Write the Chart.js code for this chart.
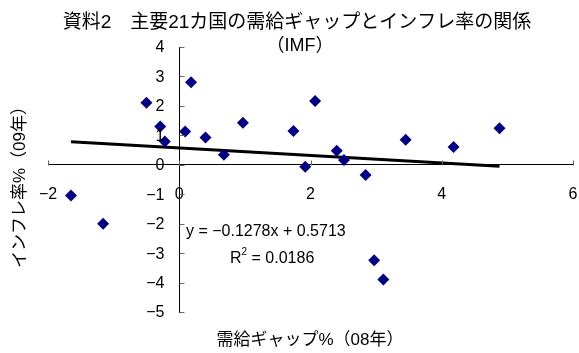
<!DOCTYPE html>
<html><head><meta charset="utf-8">
<script src="https://cdn.jsdelivr.net/npm/chart.js@4/dist/chart.umd.min.js"></script>
<style>html,body{margin:0;padding:0;background:#fff}#wrap{width:579px;height:353px;position:relative}</style>
</head><body><div id="wrap"><canvas id="c" width="579" height="353"></canvas></div>
<script>
// Data
const gapX  = [-1.65, -1.16, -0.50, -0.29, -0.22, 0.09, 0.18, 0.40, 0.68, 0.97, 1.74, 1.92, 2.07, 2.40, 2.51, 2.84, 2.97, 3.11, 3.45, 4.18, 4.88];
const inflY = [-1.04, -2.00, 2.11, 1.30, 0.79, 1.13, 2.80, 0.93, 0.34, 1.43, 1.15, -0.07, 2.17, 0.48, 0.16, -0.35, -3.24, -3.90, 0.85, 0.60, 1.24];
const trendX = [-1.65, 4.88];
const trendY = [0.78, -0.05];
const xTickValues = [-2, 0, 2, 4, 6];
const yTickValues = [-5, -4, -3, -2, -1, 0, 1, 2, 3, 4];
const titleLines = ['資料2　主要21カ国の需給ギャップとインフレ率の関係', '（IMF）'];
const xTitle = '需給ギャップ%（08年）';
const yTitle = 'インフレ率%（09年）';
const eqText = 'y = −0.1278x + 0.5713';
const r2Text = ['R', '2', ' = 0.0186'];

const FONT = '"Liberation Sans", "Noto Sans CJK JP", sans-serif';
const minus = v => String(v).replace('-', '\u2212');

const textPlugin = {
  id: 'texts',
  afterDraw(chart) {
    const ctx = chart.ctx;
    const sx = chart.scales.x, sy = chart.scales.y;
    ctx.save();
    // tick marks: x ticks upward, y ticks rightward
    ctx.strokeStyle = '#666';
    ctx.lineWidth = 1;
    const y0 = Math.round(sy.getPixelForValue(0)) + 0.5;
    const x0 = Math.round(sx.getPixelForValue(0)) + 0.5;
    ctx.beginPath();
    xTickValues.forEach(v => {
      const px = Math.round(sx.getPixelForValue(v)) + 0.5;
      ctx.moveTo(px, y0); ctx.lineTo(px, y0 - 5);
    });
    yTickValues.forEach(v => {
      const py = Math.round(sy.getPixelForValue(v)) + 0.5;
      ctx.moveTo(x0, py); ctx.lineTo(x0 + 5, py);
    });
    ctx.stroke();

    ctx.fillStyle = '#000';
    // y tick labels, left of the y axis
    ctx.textBaseline = 'middle';
    ctx.textAlign = 'right';
    ctx.font = '16px ' + FONT;
    yTickValues.forEach(v => {
      ctx.fillText(minus(v), x0 - 15, sy.getPixelForValue(v) + 1);
    });

    ctx.textAlign = 'center';
    ctx.font = '19px ' + FONT;
    ctx.fillText(titleLines[0], 297, 23);
    ctx.font = '18px ' + FONT;
    ctx.fillText(titleLines[1], 300, 46);
    ctx.font = '17px ' + FONT;
    ctx.fillText(xTitle, 310, 340);
    ctx.save();
    ctx.translate(20, 183);
    ctx.rotate(-Math.PI / 2);
    ctx.fillText(yTitle, 0, 0);
    ctx.restore();
    ctx.textAlign = 'left';
    ctx.font = '16px ' + FONT;
    ctx.fillText(eqText, 186, 232);
    let x = 230;
    ctx.fillText(r2Text[0], x, 259);
    x += ctx.measureText(r2Text[0]).width;
    ctx.font = '10px ' + FONT;
    ctx.fillText(r2Text[1], x, 252);
    x += ctx.measureText(r2Text[1]).width;
    ctx.font = '16px ' + FONT;
    ctx.fillText(r2Text[2], x, 259);
    ctx.restore();
  }
};

new Chart(document.getElementById('c'), {
  type: 'scatter',
  data: {
    datasets: [
      {
        label: 'data',
        data: gapX.map((x, i) => ({x, y: inflY[i]})),
        pointStyle: 'rectRot',
        radius: 6,
        backgroundColor: '#000080',
        borderColor: '#000080',
        borderWidth: 0,
        order: 1
      },
      {
        label: 'trend',
        type: 'line',
        data: trendX.map((x, i) => ({x, y: trendY[i]})),
        borderColor: '#000',
        borderWidth: 3,
        pointRadius: 0,
        fill: false,
        order: 2
      }
    ]
  },
  options: {
    responsive: false,
    animation: false,
    events: [],
    layout: {padding: {left: 48, right: 3, top: 47, bottom: 41}},
    plugins: {legend: {display: false}, tooltip: {enabled: false}, title: {display: false}},
    scales: {
      x: {
        type: 'linear', min: -2, max: 6,
        position: {y: 0},
        afterFit: s => { s.height = 0; s.paddingLeft = 0; s.paddingRight = 0; },
        afterBuildTicks: s => { s.ticks = xTickValues.map(v => ({value: v})); },
        ticks: {color: '#000', font: {size: 16, family: FONT}, padding: 20, maxRotation: 0, callback: minus},
        grid: {display: false, drawTicks: false, tickLength: 0},
        border: {display: true, color: '#000', width: 1}
      },
      y: {
        type: 'linear', min: -5, max: 4,
        position: {x: 0},
        afterFit: s => { s.width = 0; s.paddingTop = 0; s.paddingBottom = 0; },
        afterBuildTicks: s => { s.ticks = yTickValues.map(v => ({value: v})); },
        ticks: {display: false},
        grid: {display: false, drawTicks: false, tickLength: 0},
        border: {display: true, color: '#000', width: 1}
      }
    }
  },
  plugins: [textPlugin]
});
</script>
</body></html>
